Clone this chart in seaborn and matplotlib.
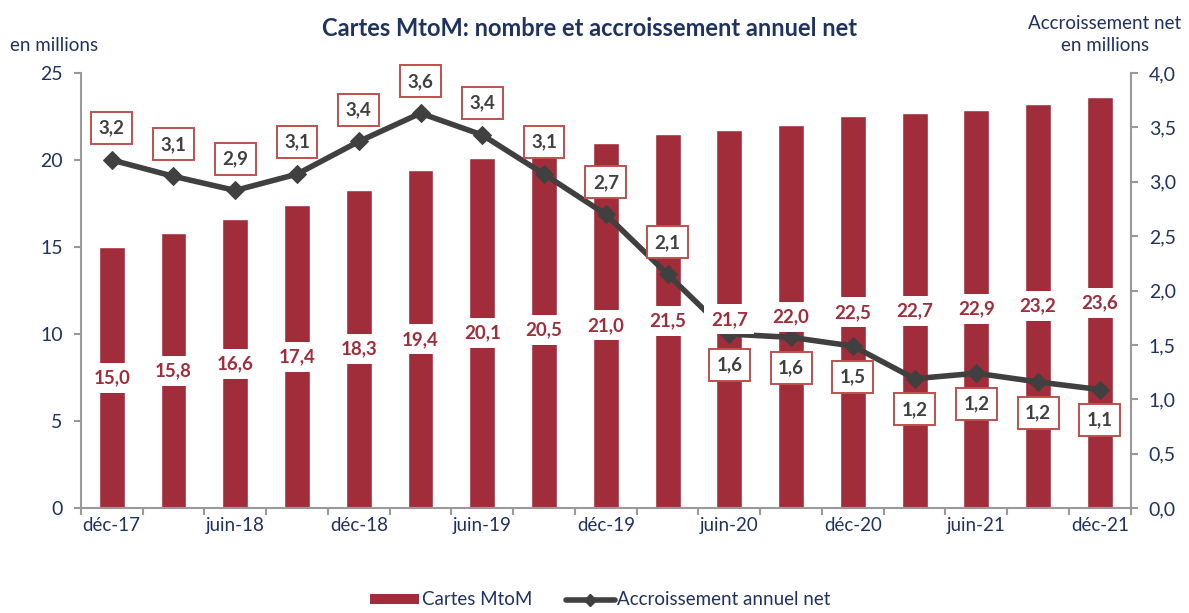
import numpy as np
import pandas as pd
import matplotlib
matplotlib.use("Agg")
import matplotlib.pyplot as plt
import seaborn as sns
from matplotlib.patches import Patch
from matplotlib.lines import Line2D
from matplotlib.ticker import FuncFormatter, FixedLocator, MultipleLocator

# ---- data ----
periods = ["déc-17", "mars-18", "juin-18", "sept-18", "déc-18", "mars-19", "juin-19",
           "sept-19", "déc-19", "mars-20", "juin-20", "sept-20", "déc-20", "mars-21",
           "juin-21", "sept-21", "déc-21"]
cards = [15.0, 15.8, 16.6, 17.4, 18.3, 19.4, 20.1, 20.5, 21.0, 21.5, 21.7, 22.0, 22.5,
         22.7, 22.9, 23.2, 23.6]
growth = [3.20, 3.05, 2.92, 3.07, 3.37, 3.63, 3.43, 3.07, 2.70, 2.15, 1.60, 1.57, 1.49,
          1.19, 1.24, 1.16, 1.09]
growth_labels = ["3,2", "3,1", "2,9", "3,1", "3,4", "3,6", "3,4", "3,1", "2,7", "2,1",
                 "1,6", "1,6", "1,5", "1,2", "1,2", "1,2", "1,1"]
shown_ticks = ["déc-17", "juin-18", "déc-18", "juin-19", "déc-19", "juin-20", "déc-20",
               "juin-21", "déc-21"]

BAR = "#A12D3B"
LINE = "#404040"
NAVY = "#1F3260"
GRAY = "#999999"
BOXEDGE = "#C0504D"

sns.set_style("white")
plt.rcParams["font.family"] = ["Lato", "DejaVu Sans"]

fig = plt.figure(figsize=(11.89, 6.13), dpi=100)
ax = fig.add_axes([0.068, 0.171, 0.883, 0.710])

df = pd.DataFrame({"period": periods, "cards": cards, "growth": growth})
df["idx"] = np.arange(len(df))

sns.barplot(data=df, x="period", y="cards", color=BAR, width=0.42, ax=ax,
            saturation=1, zorder=2)
ax.set_ylim(0, 25)
ax.set_xlim(-0.5, len(periods) - 0.5)

ax2 = ax.twinx()
sns.lineplot(data=df, x="idx", y="growth", ax=ax2, color=LINE, lw=4.0,
             marker="D", markersize=9, markeredgecolor=LINE, zorder=3)
ax2.set_ylim(0, 4)
ax2.set_xlim(-0.5, len(periods) - 0.5)

# bar value labels (drawn on ax2 so they sit above the line)
for i, v in enumerate(cards):
    ax2.text(i, v / 2, f"{v:.1f}".replace(".", ","), transform=ax.transData,
             ha="center", va="center", fontsize=13.5, fontweight="bold", color=BAR,
             zorder=5,
             bbox=dict(facecolor="white", edgecolor="none", boxstyle="square,pad=0.35"))

# line value labels
for i, (g, lab) in enumerate(zip(growth, growth_labels)):
    off = 23 if i < 10 else -22
    ax2.annotate(lab, (i, g), xytext=(0, off), textcoords="offset points",
                 ha="center", va="center", fontsize=13.5, fontweight="bold", color=LINE,
                 zorder=6,
                 bbox=dict(facecolor="white", edgecolor=BOXEDGE, linewidth=1.4,
                           boxstyle="square,pad=0.4"))

# axes styling
for a in (ax, ax2):
    a.set_xlabel("")
    a.set_ylabel("")
    a.spines["top"].set_visible(False)
ax.spines["right"].set_visible(False)
ax2.spines["left"].set_visible(False)
ax2.spines["bottom"].set_visible(False)
for s in ("left", "bottom"):
    ax.spines[s].set_color(GRAY)
    ax.spines[s].set_linewidth(1.5)
ax2.spines["right"].set_color(GRAY)
ax2.spines["right"].set_linewidth(1.5)

ax.yaxis.set_major_locator(MultipleLocator(5))
ax.yaxis.set_major_formatter(FuncFormatter(lambda v, p: f"{v:.0f}"))
ax2.yaxis.set_major_locator(MultipleLocator(0.5))
ax2.yaxis.set_major_formatter(FuncFormatter(lambda v, p: f"{v:.1f}".replace(".", ",")))

ax.tick_params(axis="y", direction="out", length=5, width=1.5, color=GRAY,
               labelsize=14, labelcolor=NAVY, left=True, pad=8)
ax2.tick_params(axis="y", direction="out", length=5, width=1.5, color=GRAY,
                labelsize=14, labelcolor=NAVY, right=True, pad=8)

# x ticks: marks at category boundaries, labels every other category
ax.xaxis.set_major_locator(FixedLocator(np.arange(0, len(periods), 2)))
ax.set_xticklabels(shown_ticks)
ax.xaxis.set_minor_locator(FixedLocator(np.arange(-0.5, len(periods), 1)))
ax.tick_params(axis="x", which="major", length=0, labelsize=13.5, labelcolor=NAVY, pad=6)
ax.tick_params(axis="x", which="minor", direction="out", length=5, width=1.5,
               color=GRAY, bottom=True)
ax2.tick_params(axis="x", which="both", bottom=False, labelbottom=False)

# titles and axis captions
fig.text(0.496, 0.953, "Cartes MtoM: nombre et accroissement annuel net", ha="center",
         va="center", fontsize=17, fontweight="bold", color=NAVY)
fig.text(0.008, 0.926, "en millions", ha="left", va="center", fontsize=13.5, color=NAVY)
fig.text(0.929, 0.944, "Accroissement net\nen millions", ha="center", va="center",
         fontsize=13.5, color=NAVY, linespacing=1.35)

handles = [Patch(facecolor=BAR, edgecolor="none"),
           Line2D([0], [0], color=LINE, lw=4.0, marker="D", markersize=6)]
fig.legend(handles, ["Cartes MtoM", "Accroissement annuel net"], loc="lower center",
           bbox_to_anchor=(0.505, -0.02), ncol=2, frameon=False, fontsize=13.5,
           handlelength=2.6, handleheight=0.45, handletextpad=0.15, columnspacing=1.8,
           labelcolor=NAVY)

fig.savefig("out.png", dpi=100)
